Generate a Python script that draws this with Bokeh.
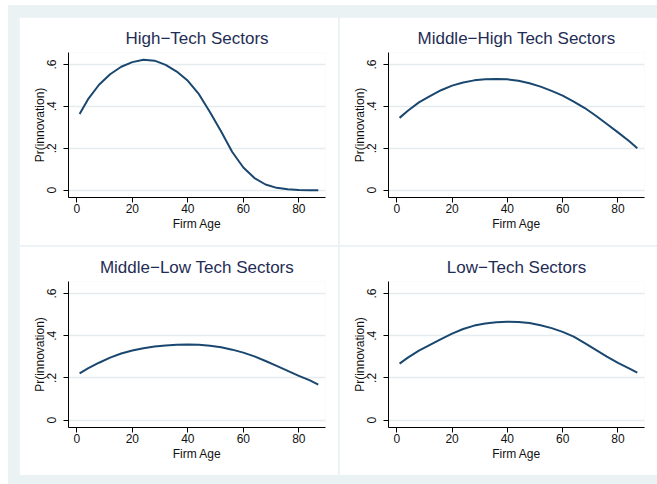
from bokeh.plotting import figure
from bokeh.layouts import row, column
from bokeh.models import Range1d, FixedTicker, Spacer
from bokeh.embed import file_html
from bokeh.resources import INLINE

# ---- data ----
age = [1, 4, 8, 12, 16, 20, 24, 28, 32, 36, 40, 44, 48, 52, 56, 60, 64, 68, 72, 76, 80, 84, 87]

high_tech = [0.364, 0.433, 0.503, 0.553, 0.589, 0.611, 0.622, 0.618, 0.598, 0.566, 0.522,
             0.458, 0.372, 0.280, 0.182, 0.108, 0.058, 0.027, 0.011, 0.004, 0.001, 0.000, 0.000]
middle_high = [0.345, 0.379, 0.419, 0.449, 0.477, 0.499, 0.514, 0.524, 0.529, 0.531, 0.529,
               0.522, 0.510, 0.494, 0.474, 0.451, 0.423, 0.392, 0.355, 0.316, 0.276, 0.235, 0.200]
middle_low = [0.222, 0.245, 0.272, 0.296, 0.316, 0.330, 0.341, 0.349, 0.354, 0.357, 0.358,
              0.357, 0.352, 0.345, 0.334, 0.320, 0.302, 0.280, 0.257, 0.233, 0.210, 0.188, 0.168]
low_tech = [0.268, 0.296, 0.329, 0.357, 0.384, 0.410, 0.432, 0.448, 0.458, 0.464, 0.466,
            0.465, 0.460, 0.450, 0.436, 0.418, 0.396, 0.365, 0.333, 0.301, 0.271, 0.245, 0.225]

titles = ["High\u2212Tech Sectors", "Middle\u2212High Tech Sectors",
          "Middle\u2212Low Tech Sectors", "Low\u2212Tech Sectors"]
series = [high_tech, middle_high, middle_low, low_tech]

x_ticks = [0, 20, 40, 60, 80]
y_ticks = [0, 0.2, 0.4, 0.6]
y_tick_labels = ["0", ".2", ".4", ".6"]

x_label = "Firm Age"
y_label = "Pr(innovation)"

FONT = "Liberation Sans"
BG = "#EAF2F3"
LINE = "#1A476F"
TITLE_C = "#1F2D55"


def panel(title, ys, width, height):
    p = figure(width=width, height=height, output_backend="svg", toolbar_location=None,
               x_range=Range1d(-3.0, 89.6), y_range=Range1d(-0.035, 0.657),
               min_border_left=49, min_border_right=13, min_border_top=35, min_border_bottom=48)
    p.background_fill_color = "white"
    p.border_fill_color = "white"
    p.outline_line_color = None

    p.title.text = title
    p.title.align = "center"
    p.title.text_font = FONT
    p.title.text_font_size = "17px"
    p.title.text_font_style = "normal"
    p.title.text_color = TITLE_C

    p.line(age, ys, line_color=LINE, line_width=2, line_join="round")

    p.xgrid.visible = False
    p.ygrid.grid_line_color = "#E4ECEE"
    p.ygrid.grid_line_width = 1.5
    p.ygrid.ticker = FixedTicker(ticks=y_ticks)

    xa = p.xaxis[0]
    xa.ticker = FixedTicker(ticks=x_ticks)
    xa.axis_label = x_label
    ya = p.yaxis[0]
    ya.ticker = FixedTicker(ticks=y_ticks)
    ya.axis_label = y_label
    ya.major_label_overrides = {t: l for t, l in zip(y_ticks, y_tick_labels)}
    ya.major_label_orientation = "vertical"

    for ax in (xa, ya):
        ax.axis_line_color = "black"
        ax.major_tick_line_color = "black"
        ax.major_tick_out = 5
        ax.major_tick_in = 0
        ax.minor_tick_line_color = None
        ax.major_label_text_font = FONT
        ax.major_label_text_font_size = "12px"
        ax.major_label_text_color = "#111111"
        ax.axis_label_text_font = FONT
        ax.axis_label_text_font_size = "12px"
        ax.axis_label_text_font_style = "normal"
        ax.axis_label_text_color = "#111111"
    xa.major_label_standoff = 1
    xa.axis_label_standoff = 1
    ya.major_label_standoff = 7
    ya.axis_label_standoff = -2
    return p


p1 = panel(titles[0], series[0], 319, 228)
p2 = panel(titles[1], series[1], 318, 228)
p3 = panel(titles[2], series[2], 319, 229)
p4 = panel(titles[3], series[3], 318, 229)

r1 = row(p1, p2, spacing=1)
r2 = row(p3, p4, spacing=1)
inner = column(r1, r2, spacing=1)
gray_box = column(
    Spacer(width=649, height=12),
    row(Spacer(width=11, height=458), inner),
    Spacer(width=649, height=9),
    styles={"background-color": BG},
)
layout = column(
    Spacer(width=657, height=5),
    row(Spacer(width=8, height=479), gray_box),
)

open("out.html", "w").write(file_html(layout, INLINE))
